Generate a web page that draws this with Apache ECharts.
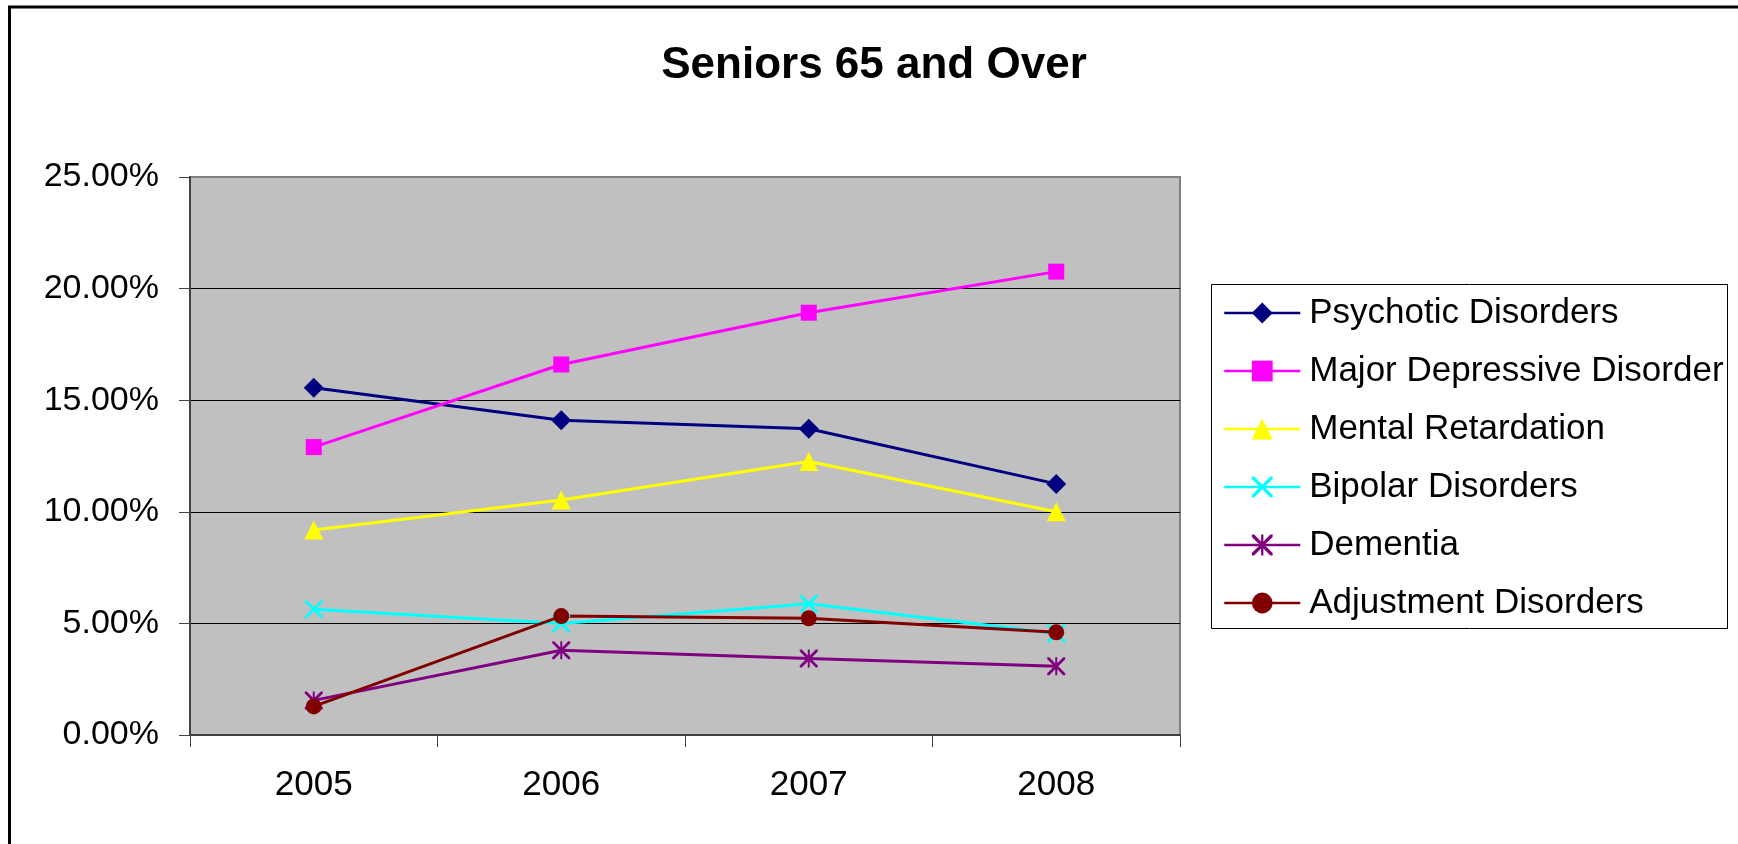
<!DOCTYPE html>
<html>
<head>
<meta charset="utf-8">
<script src="https://cdn.jsdelivr.net/npm/echarts@6/dist/echarts.min.js"></script>
<style>
html,body{margin:0;padding:0;background:#fff;}
#c{width:1738px;height:844px;}
</style>
</head>
<body>
<div id="c"></div>
<script>
const categories = ['2005', '2006', '2007', '2008'];
const psychotic = [15.56, 14.10, 13.72, 11.25];
const majorDepressive = [12.90, 16.60, 18.92, 20.76];
const mentalRetardation = [9.18, 10.53, 12.25, 10.00];
const bipolar = [5.63, 5.00, 5.88, 4.55];
const dementia = [1.55, 3.80, 3.43, 3.08];
const adjustment = [1.28, 5.33, 5.23, 4.60];
const yTicks = [0, 5, 10, 15, 20, 25];

const FONT = "'Liberation Sans', Arial, sans-serif";
const X_PATH = 'path://M0,0 L2.2,0 L10,7.8 L17.8,0 L20,0 L20,2.2 L12.2,10 L20,17.8 L20,20 L17.8,20 L10,12.2 L2.2,20 L0,20 L0,17.8 L7.8,10 L0,2.2 Z';
const STAR_PATH = 'path://M0,0 L2.2,0 L10,7.8 L17.8,0 L20,0 L20,2.2 L12.2,10 L20,17.8 L20,20 L17.8,20 L10,12.2 L2.2,20 L0,20 L0,17.8 L7.8,10 L0,2.2 Z M8.9,0 L11.1,0 L11.1,20 L8.9,20 Z';

function mk(name, data, color, symbol, size) {
  return {
    name: name, type: 'line', data: data,
    symbol: symbol, symbolSize: size, symbolKeepAspect: true,
    lineStyle: { color: color, width: 3 },
    itemStyle: { color: color },
    emphasis: { disabled: true },
    animation: false
  };
}

const chart = echarts.init(document.getElementById('c'));
chart.setOption({
  backgroundColor: '#ffffff',
  animation: false,
  title: {
    text: 'Seniors 65 and Over',
    left: 874, top: 44, textAlign: 'center', padding: 0,
    textStyle: { fontFamily: FONT, fontWeight: 'bold', fontSize: 44, lineHeight: 44, color: '#000' }
  },
  graphic: [
    { type: 'rect', shape: { x: 9.5, y: 7, width: 1800, height: 900 },
      style: { fill: 'none', stroke: '#000', lineWidth: 3 }, z: 100 },
    { type: 'rect', shape: { x: 1211.5, y: 284.5, width: 516, height: 344 },
      style: { fill: '#fff', stroke: '#000', lineWidth: 1 }, z: 0 }
  ],
  legend: {
    orient: 'vertical', left: 1223, top: 295, padding: 0,
    itemWidth: 76, itemHeight: 26, itemGap: 22,
    selectedMode: false,
    lineStyle: { width: 2.5 },
    textStyle: { fontFamily: FONT, fontSize: 35, lineHeight: 36, color: '#000', padding: [0, 0, 0, 4] },
    data: ['Psychotic Disorders', 'Major Depressive Disorder', 'Mental Retardation', 'Bipolar Disorders', 'Dementia', 'Adjustment Disorders']
  },
  grid: {
    left: 190, top: 177, right: 558, bottom: 109,
    show: true, backgroundColor: '#c0c0c0', borderColor: '#808080', borderWidth: 2
  },
  xAxis: {
    type: 'category', data: categories, boundaryGap: true,
    axisLine: { show: true, lineStyle: { color: '#404040', width: 2 } },
    axisTick: { show: true, length: 12, lineStyle: { color: '#404040', width: 1 } },
    axisLabel: { margin: 33, fontFamily: FONT, fontSize: 35, lineHeight: 35, color: '#000' },
    splitLine: { show: false }
  },
  yAxis: {
    type: 'value', min: 0, max: 25, interval: 5,
    axisLine: { show: true, lineStyle: { color: '#404040', width: 2 } },
    axisTick: { show: true, length: 11, lineStyle: { color: '#404040', width: 1 } },
    axisLabel: { margin: 31, fontFamily: FONT, fontSize: 34, color: '#000',
      formatter: function (v) { return v.toFixed(2) + '%'; } },
    splitLine: { show: true, showMinLine: false, showMaxLine: false, lineStyle: { color: '#000', width: 1 } }
  },
  series: [
    mk('Psychotic Disorders', psychotic, '#000080', 'diamond', 20),
    mk('Major Depressive Disorder', majorDepressive, '#ff00ff', 'rect', 16),
    mk('Mental Retardation', mentalRetardation, '#ffff00', 'triangle', 19),
    mk('Bipolar Disorders', bipolar, '#00ffff', X_PATH, 18),
    mk('Dementia', dementia, '#800080', STAR_PATH, 18),
    mk('Adjustment Disorders', adjustment, '#800000', 'circle', 16)
  ]
});
</script>
</body>
</html>
